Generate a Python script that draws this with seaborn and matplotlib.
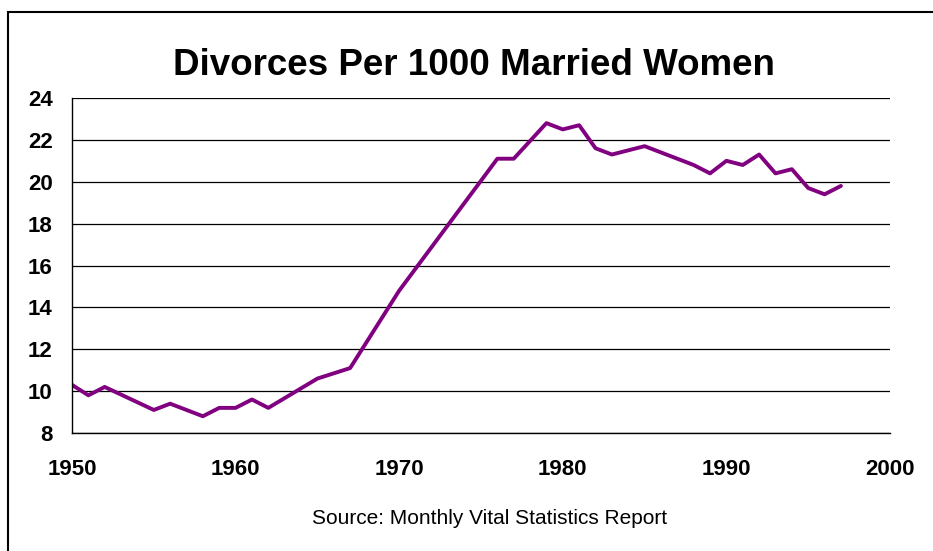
import matplotlib
matplotlib.use("Agg")
import matplotlib.pyplot as plt
import seaborn as sns
import pandas as pd
from matplotlib.patches import Rectangle

# divorces per 1000 married women
years = [1950, 1951, 1952, 1955, 1956, 1958, 1959, 1960, 1961, 1962, 1965, 1967,
         1970, 1976, 1977, 1979, 1980, 1981, 1982, 1983, 1985, 1988, 1989, 1990,
         1991, 1992, 1993, 1994, 1995, 1996, 1997]
rate = [10.3, 9.8, 10.2, 9.1, 9.4, 8.8, 9.2, 9.2, 9.6, 9.2, 10.6, 11.1,
        14.8, 21.1, 21.1, 22.8, 22.5, 22.7, 21.6, 21.3, 21.7, 20.8, 20.4, 21.0,
        20.8, 21.3, 20.4, 20.6, 19.7, 19.4, 19.8]
xticks = [1950, 1960, 1970, 1980, 1990, 2000]
yticks = [8, 10, 12, 14, 16, 18, 20, 22, 24]

data = pd.DataFrame({'year': years, 'rate': rate})

sns.set_style('white')
plt.rcParams['font.family'] = ['Liberation Sans', 'DejaVu Sans']
plt.rcParams['text.color'] = 'black'
plt.rcParams['xtick.color'] = 'black'
plt.rcParams['ytick.color'] = 'black'

fig = plt.figure(figsize=(9.33, 5.51), dpi=100)
ax = fig.add_axes([72 / 933, 1 - 433 / 551, (890 - 72) / 933, (433 - 98) / 551])

# outer frame of the chart area
fig.patches.append(Rectangle((8 / 933, -0.05), 1.2, 1 - 12 / 551 + 0.05,
                             transform=fig.transFigure, fill=False,
                             edgecolor='black', linewidth=1.5))

sns.lineplot(x='year', y='rate', data=data, color='#800080', linewidth=2.8, ax=ax)

ax.set_xlim(1950, 2000)
ax.set_ylim(8, 24)
ax.set_xticks(xticks)
ax.set_yticks(yticks)
ax.set_xlabel('')
ax.set_ylabel('')
ax.grid(axis='y', color='black', linewidth=0.9)
ax.set_axisbelow(True)
for s in ['top', 'right']:
    ax.spines[s].set_visible(False)
for s in ['left', 'bottom']:
    ax.spines[s].set_color('black')
    ax.spines[s].set_linewidth(1)
ax.tick_params(axis='both', direction='out', length=7, width=1, color='black')
ax.tick_params(axis='x', pad=12, labelsize=16)
ax.tick_params(axis='y', pad=7, labelsize=16)
for lab in ax.get_xticklabels() + ax.get_yticklabels():
    lab.set_fontweight('bold')

fig.text(474 / 933, 1 - 65 / 551, 'Divorces Per 1000 Married Women',
         ha='center', va='center', fontsize=26.5, fontweight='bold')
fig.text(490 / 933, 1 - 519 / 551, 'Source: Monthly Vital Statistics Report',
         ha='center', va='center', fontsize=15)

fig.savefig('out.png', dpi=100)
